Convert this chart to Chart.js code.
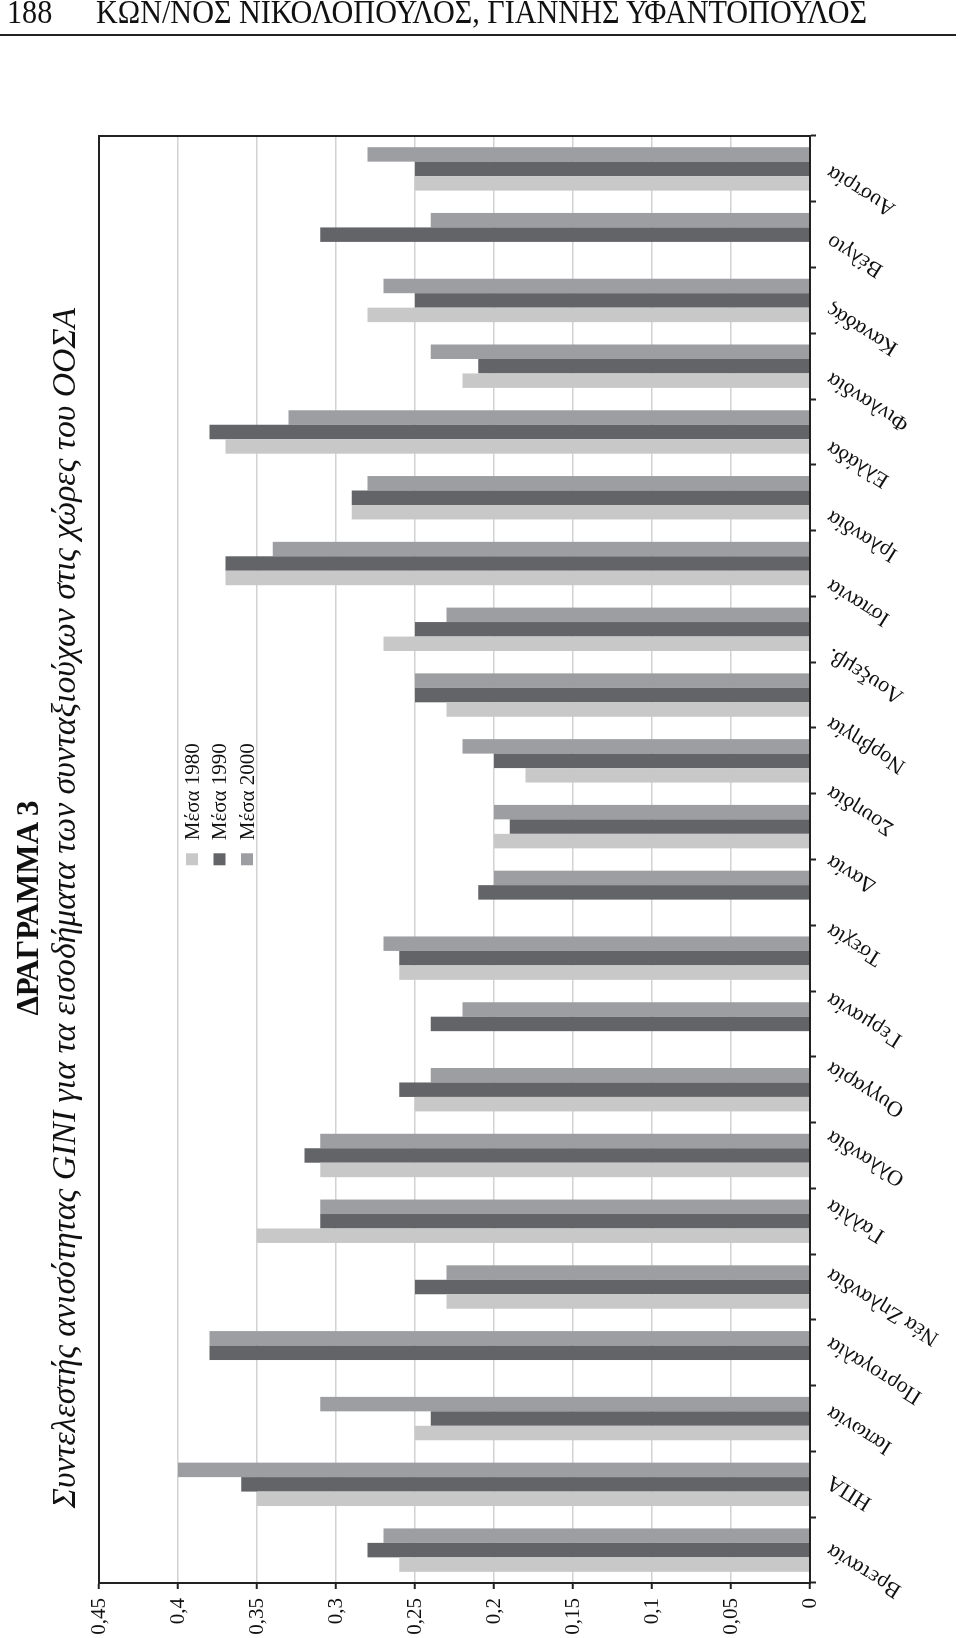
<!DOCTYPE html>
<html><head><meta charset="utf-8">
<script src="https://cdn.jsdelivr.net/npm/chart.js@4.4.1/dist/chart.umd.min.js"></script>
<style>
html,body{margin:0;padding:0;background:#fff;}
body{width:960px;height:1638px;position:relative;overflow:hidden;font-family:"Liberation Serif","Times New Roman",serif;color:#111;}
#hdr{position:absolute;left:0;top:0;width:960px;height:40px;z-index:2;}
#pg{position:absolute;left:7px;top:-4px;font-size:33px;line-height:33px;white-space:nowrap;transform-origin:0 0;}
#run{position:absolute;left:96px;top:-4px;font-size:33px;line-height:33px;white-space:nowrap;transform-origin:0 0;}
#rule{position:absolute;left:0;top:34px;width:956px;height:2px;background:#222;}
#rot{position:absolute;left:0;top:0;width:1638px;height:960px;transform-origin:0 0;transform:translate(0px,1638px) rotate(-90deg);}
#c{position:absolute;left:0;top:0;}
.ttl{position:absolute;left:0;width:1460px;text-align:center;white-space:nowrap;}
#t1{top:12px;font-size:31px;line-height:31px;font-weight:bold;}
#t2{top:46px;font-size:32px;line-height:32px;font-style:italic;}
</style></head>
<body>
<div id="hdr"><div id="pg">188</div><div id="run">ΚΩΝ/ΝΟΣ ΝΙΚΟΛΟΠΟΥΛΟΣ, ΓΙΑΝΝΗΣ ΥΦΑΝΤΟΠΟΥΛΟΣ</div><div id="rule"></div></div>
<div id="rot">
  <canvas id="c" width="1638" height="960"></canvas>
  <div class="ttl" id="t1">ΔΡΑΓΡΑΜΜΑ 3</div>
  <div class="ttl" id="t2"><span id="t2s">Συντελεστής ανισότητας GINI για τα εισοδήματα των συνταξιούχων στις χώρες του ΟΟΣΑ</span></div>
</div>
<script>
// Country labels (left to right in the unrotated chart = bottom to top on the page)
const countries = ['Βρετανία','ΗΠΑ','Ιαπωνία','Πορτογαλία','Νέα Ζηλανδία','Γαλλία','Ολλανδία','Ουγγαρία','Γερμανία','Τσεχία','Δανία','Σουηδία','Νορβηγία','Λουξεμβ.','Ισπανία','Ιρλανδία','Ελλάδα','Φινλανδία','Καναδάς','Βέλγιο','Αυστρία'];
const seriesNames = ['Μέσα 1980','Μέσα 1990','Μέσα 2000'];
// Bar groups as they appear (22 groups)
const mesa1980 = [0.26,0.35,0.25,null,0.23,0.35,0.31,0.25,null,0.26,null,0.20,0.18,0.23,0.27,0.37,0.29,0.37,0.22,0.28,null,0.25];
const mesa1990 = [0.28,0.36,0.24,0.38,0.25,0.31,0.32,0.26,0.24,0.26,0.21,0.19,0.20,0.25,0.25,0.37,0.29,0.38,0.21,0.25,0.31,0.25];
const mesa2000 = [0.27,0.40,0.31,0.38,0.23,0.31,0.31,0.24,0.22,0.27,0.20,0.20,0.22,0.25,0.23,0.34,0.28,0.33,0.24,0.27,0.24,0.28];
const valueTickLabels = ['0','0,05','0,1','0,15','0,2','0,25','0,3','0,35','0,4','0,45'];
const seriesColors = ['#c8c8c9','#636468','#9d9ea1'];

// fit header and subtitle text widths
(function(){
  const run = document.getElementById('run');
  const k = 771 / run.getBoundingClientRect().width;
  run.style.transform = 'scaleX(' + k + ')';
  document.getElementById('pg').style.transform = 'scaleX(' + k + ')';
  const s = document.getElementById('t2s');
  const w = s.offsetWidth;
  const t2 = document.getElementById('t2');
  const fs = 32 * 1201 / w;
  t2.style.fontSize = fs + 'px';
  t2.style.lineHeight = fs + 'px';
  t2.style.top = (53 - 0.1755 * fs) + 'px';
})();

const FONT = "'Liberation Serif','Times New Roman',serif";

const framePlugin = {
  id: 'frame',
  afterDraw(chart) {
    const {ctx, chartArea: a} = chart;
    ctx.save();
    ctx.strokeStyle = '#222';
    ctx.lineWidth = 2;
    ctx.strokeRect(a.left, a.top, a.right - a.left, a.bottom - a.top);
    ctx.restore();
  }
};

const innerLegend = {
  id: 'innerLegend',
  afterDraw(chart) {
    const {ctx, chartArea: a} = chart;
    const x0 = a.left + (a.right - a.left) * 0.496;
    const y0 = a.top + 87;
    ctx.save();
    ctx.font = '21px ' + FONT;
    ctx.textBaseline = 'alphabetic';
    ctx.textAlign = 'left';
    chart.data.datasets.forEach((ds, i) => {
      const y = y0 + i * 27.5;
      ctx.fillStyle = ds.backgroundColor;
      ctx.fillRect(x0, y, 12, 12);
      ctx.fillStyle = '#111';
      ctx.fillText(ds.label, x0 + 25, y + 12.5);
    });
    ctx.restore();
  }
};

new Chart(document.getElementById('c'), {
  type: 'bar',
  data: {
    labels: mesa1980.map((_, i) => String(i + 1)),
    datasets: [
      {label: seriesNames[0], data: mesa1980, backgroundColor: seriesColors[0]},
      {label: seriesNames[1], data: mesa1990, backgroundColor: seriesColors[1]},
      {label: seriesNames[2], data: mesa2000, backgroundColor: seriesColors[2]}
    ]
  },
  options: {
    responsive: false,
    animation: false,
    devicePixelRatio: 1,
    categoryPercentage: 0.66,
    barPercentage: 1.0,
    layout: {padding: {left: 0, top: 99, right: 136, bottom: 0}},
    plugins: {legend: {display: false}, tooltip: {enabled: false}, title: {display: false}},
    scales: {
      x: {
        type: 'category',
        position: 'bottom',
        weight: 0,
        offset: true,
        grid: {display: true, offset: true, drawOnChartArea: false, drawTicks: true, tickLength: 6, tickColor: '#222', tickWidth: 2, color: '#222'},
        border: {display: true, color: '#222', width: 2},
        ticks: {display: false},
        afterFit(s) { s.height = 6; }
      },
      x2: {
        type: 'category',
        position: 'bottom',
        weight: 1,
        labels: countries,
        offset: true,
        grid: {display: false, drawTicks: false},
        border: {display: false},
        ticks: {autoSkip: false, minRotation: 58, maxRotation: 58, padding: 6, color: '#111', font: {family: FONT, size: 22}},
        afterFit(s) { s.height = 144; }
      },
      y: {
        type: 'linear',
        position: 'left',
        min: 0, max: 0.45,
        grid: {color: '#d2d2d2', lineWidth: 1.5, drawTicks: true, tickLength: 6, tickColor: '#222', tickWidth: 2},
        border: {display: true, color: '#222', width: 2},
        ticks: {stepSize: 0.05, padding: 9, color: '#111', font: {family: FONT, size: 21},
          callback: (v) => valueTickLabels[Math.round(v / 0.05)]},
        afterFit(s) { s.width = 55; }
      }
    }
  },
  plugins: [framePlugin, innerLegend]
});
</script>
</body></html>
